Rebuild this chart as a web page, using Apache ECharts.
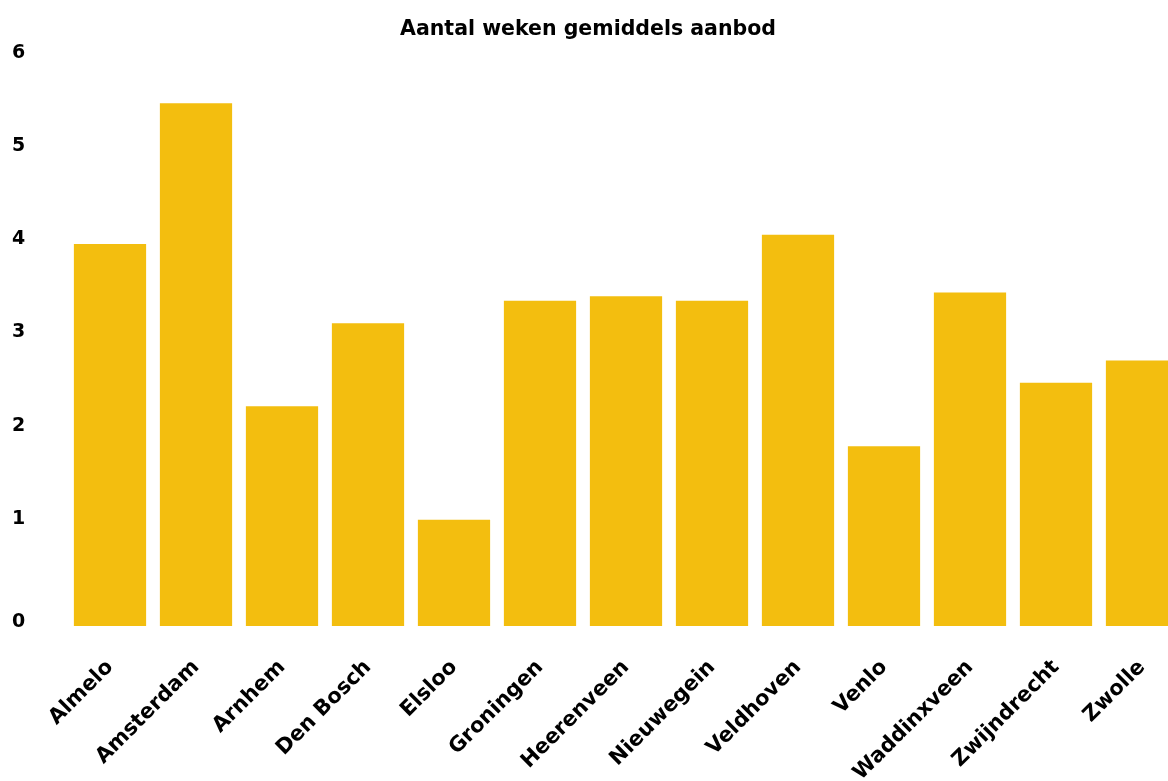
<!DOCTYPE html>
<html lang="nl">
<head>
    <meta charset="UTF-8">
    <title>Aantal weken gemiddels aanbod</title>
    <style>
        html, body { margin: 0; padding: 0; background: #fff; }
        #main { width: 1168px; height: 781px; }
    </style>
</head>
<body>
    <div id="main"></div>

    <script src="https://cdn.jsdelivr.net/npm/echarts@6/dist/echarts.min.js"></script>
    <script type="text/javascript">
        var steden = ['Almelo', 'Amsterdam', 'Arnhem', 'Den Bosch', 'Elsloo', 'Groningen', 'Heerenveen',
            'Nieuwegein', 'Veldhoven', 'Venlo', 'Waddinxveen', 'Zwijndrecht', 'Zwolle'];
        var weken = [4.10, 5.61, 2.36, 3.25, 1.14, 3.49, 3.54, 3.49, 4.20, 1.93, 3.58, 2.61, 2.85];
        var yTicks = [0, 1, 2, 3, 4, 5, 6];

        var myChart = echarts.init(document.getElementById('main'));
        var font = 'DejaVu Sans';

        option = {
            animation: false,
            title: {
                text: 'Aantal weken gemiddels aanbod',
                left: 583,
                textAlign: 'center',
                top: 14,
                textStyle: { fontFamily: font, fontWeight: 'bold', fontSize: 20.5, color: '#000' }
            },
            // het diagram loopt rechts iets buiten beeld, net als het origineel
            grid: { left: 67, top: 67, width: 1118, bottom: 155, outerBoundsMode: 'none' },
            xAxis: {
                type: 'category',
                data: steden,
                axisLine: { show: false },
                axisTick: { show: false },
                axisLabel: {
                    rotate: 45,
                    interval: 0,
                    margin: 38,
                    fontFamily: font,
                    fontWeight: 'bold',
                    fontSize: 21,
                    color: '#000'
                }
            },
            yAxis: {
                type: 'value',
                min: yTicks[0],
                max: yTicks[yTicks.length - 1],
                interval: 1,
                splitLine: { show: false },
                axisLine: { show: false },
                axisTick: { show: false },
                axisLabel: {
                    align: 'left',
                    margin: 55,
                    formatter: function (v) {
                        return v === 0 ? '{z|0}' : '{n|' + v + '}';
                    },
                    rich: {
                        n: { fontFamily: font, fontWeight: 'bold', fontSize: 19, color: '#000', padding: [0, 0, 28, 0] },
                        z: { fontFamily: font, fontWeight: 'bold', fontSize: 19, color: '#000', padding: [0, 0, 7, 0] }
                    }
                }
            },
            series: [{
                name: 'weken',
                type: 'bar',
                data: weken,
                barCategoryGap: '16%',
                itemStyle: { color: '#F3BE0F' }
            }]
        };
        myChart.setOption(option);
    </script>
</body>
</html>
